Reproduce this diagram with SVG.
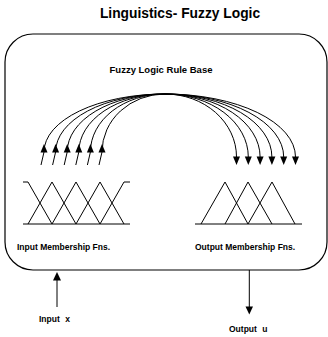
<svg xmlns="http://www.w3.org/2000/svg" width="328" height="337" viewBox="0 0 328 337">
<style>
text{font-family:"Liberation Sans",Arial,sans-serif;font-weight:bold;fill:#000}
.ln{fill:none;stroke:#000;stroke-width:1}
.hd{fill:#000;stroke:none}
</style>
<rect width="328" height="337" fill="#fff"/>
<text x="180" y="18" font-size="13.8" text-anchor="middle">Linguistics- Fuzzy Logic</text>
<g id="system">
<rect x="5" y="34" width="322" height="236" rx="28" ry="28" fill="none" stroke="#000" stroke-width="1.2"/>
<text x="161" y="73" font-size="9.5" text-anchor="middle">Fuzzy Logic Rule Base</text>
</g>
<g id="input-mf">
<path class="ln" d="M23,182 H28 L52,224 M28,224 L52,182 L76,224 M52,224 L76,182 L100,224 M76,224 L100,182 L124,224 M100,224 L124,182 H130 M23,224 H130"/>
<text x="17" y="250" font-size="8.5">Input Membership Fns.</text>
</g>
<g id="output-mf">
<path class="ln" d="M201,224 L225,182 L248,224 M225,224 L248,182 L272,224 M248,224 L272,182 L295,224 M195,224 H302"/>
<text x="195" y="250" font-size="8.5">Output Membership Fns.</text>
</g>
<g id="input-x">
<text x="39" y="322" font-size="8.5" word-spacing="3">Input x</text>
</g>
<g id="output-u">
<text x="229" y="332" font-size="8.5" word-spacing="3">Output u</text>
</g>
<g id="connectors">
<path class="ln" d="M41,165 L44,152 A121,58 0 0 1 165,94"/>
<path class="ln" d="M52.6,165 L55.6,152 A109.4,58 0 0 1 165,94"/>
<path class="ln" d="M64.2,165 L67.2,152 A97.8,58 0 0 1 165,94"/>
<path class="ln" d="M75.8,165 L78.8,152 A86.2,58 0 0 1 165,94"/>
<path class="ln" d="M87.4,165 L90.4,152 A74.6,58 0 0 1 165,94"/>
<path class="ln" d="M99,165 L102,152 A63,58 0 0 1 165,94"/>
<polygon class="hd" points="44,144 40.5,152.5 47.5,152.5"/>
<polygon class="hd" points="55.6,144 52.1,152.5 59.1,152.5"/>
<polygon class="hd" points="67.2,144 63.7,152.5 70.7,152.5"/>
<polygon class="hd" points="78.8,144 75.3,152.5 82.3,152.5"/>
<polygon class="hd" points="90.4,144 86.9,152.5 93.9,152.5"/>
<polygon class="hd" points="102,144 98.5,152.5 105.5,152.5"/>
<path class="ln" d="M165,94 A71.5,63 0 0 1 236.5,157"/>
<path class="ln" d="M165,94 A83.3,63 0 0 1 248.3,157"/>
<path class="ln" d="M165,94 A95.1,63 0 0 1 260.1,157"/>
<path class="ln" d="M165,94 A106.9,63 0 0 1 271.9,157"/>
<path class="ln" d="M165,94 A118.7,63 0 0 1 283.7,157"/>
<path class="ln" d="M165,94 A130.5,63 0 0 1 295.5,157"/>
<polygon class="hd" points="233,156.5 240,156.5 236.5,165"/>
<polygon class="hd" points="244.8,156.5 251.8,156.5 248.3,165"/>
<polygon class="hd" points="256.6,156.5 263.6,156.5 260.1,165"/>
<polygon class="hd" points="268.4,156.5 275.4,156.5 271.9,165"/>
<polygon class="hd" points="280.2,156.5 287.2,156.5 283.7,165"/>
<polygon class="hd" points="292,156.5 299,156.5 295.5,165"/>
<path class="ln" d="M57,280 V307"/>
<polygon class="hd" points="57,272 53,280.5 61,280.5"/>
<path class="ln" d="M249.3,270 V307"/>
<polygon class="hd" points="245.5,306.5 253,306.5 249.3,314.5"/>
</g>
</svg>
